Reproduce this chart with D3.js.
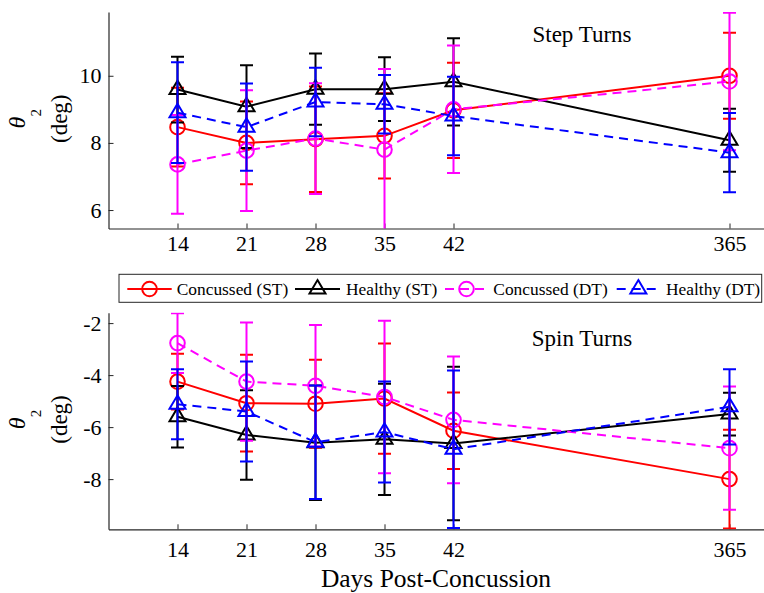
<!DOCTYPE html>
<html>
<head>
<meta charset="utf-8">
<script src="https://cdn.jsdelivr.net/npm/d3@7"></script>
<style>
  html, body { margin: 0; padding: 0; background: #fff; }
  svg { display: block; }
  text { font-family: "Liberation Serif", "Times New Roman", serif; fill: #000; }
</style>
</head>
<body>
<svg id="chart" width="764" height="593"></svg>
<script>
// ---------- data ----------
const xPos = [14, 21, 28, 35, 42, 70];            // plotting position of each visit
const xTickLabels = ["14", "21", "28", "35", "42", "365"];
const seriesNames = ["Concussed (ST)", "Healthy (ST)", "Concussed (DT)", "Healthy (DT)"];

// Step Turns (top panel)
const stepConcST   = [8.47, 8.00, 8.11, 8.21, 8.97, 10.00];
const stepConcSTe  = [1.17, 1.23, 1.57, 1.27, 1.42, 1.28];
const stepHealthST = [9.59, 9.08, 9.60, 9.60, 9.82, 8.08];
const stepHealthSTe= [0.98, 1.23, 1.06, 0.95, 1.30, 0.94];
const stepConcDT   = [7.36, 7.77, 8.13, 7.80, 9.00, 9.83];
const stepConcDTe  = [1.47, 1.80, 1.65, 2.40, 1.90, 2.05];
const stepHealthDT = [8.90, 8.47, 9.22, 9.15, 8.80, 7.71];
const stepHealthDTe= [1.50, 1.30, 1.02, 0.87, 1.17, 1.18];
const stepYTicks = [6, 8, 10];
const stepYTickLabels = ["6", "8", "10"];

// Spin Turns (bottom panel)
const spinConcST   = [-4.25, -5.08, -5.10, -4.90, -6.14, -8.00];
const spinConcSTe  = [1.07, 1.86, 1.69, 2.12, 1.47, 1.90];
const spinHealthST = [-5.60, -6.30, -6.60, -6.47, -6.63, -5.50];
const spinHealthSTe= [1.18, 1.72, 2.20, 2.14, 2.95, 0.82];
const spinConcDT   = [-2.77, -4.25, -4.41, -4.84, -5.72, -6.81];
const spinConcDTe  = [1.15, 2.27, 2.34, 2.93, 2.44, 2.37];
const spinHealthDT = [-5.12, -5.40, -6.58, -6.19, -6.85, -5.22];
const spinHealthDTe= [1.35, 1.92, 2.18, 1.94, 3.03, 1.45];
const spinYTicks = [-8, -6, -4, -2];
const spinYTickLabels = ["-8", "-6", "-4", "-2"];

// ---------- styles ----------
const colors = ["#ff0000", "#000000", "#ff00ff", "#0000ff"];
const dashed = [false, false, true, true];
const markers = ["circle", "triangle", "circle", "triangle"];
const axisColor = "#262626";

const svg = d3.select("#chart");
const x = d3.scaleLinear().domain([7, 77]).range([108.5, 798.5]);

const panels = [
  { title: "Step Turns", top: 12, bottom: 228.5, domain: [5.45, 11.9],
    yTicks: stepYTicks, yLabels: stepYTickLabels, titleY: 42, xLabPad: 7,
    series: [[stepConcST, stepConcSTe], [stepHealthST, stepHealthSTe], [stepConcDT, stepConcDTe], [stepHealthDT, stepHealthDTe]] },
  { title: "Spin Turns", top: 312.7, bottom: 529.3, domain: [-9.93, -1.6],
    yTicks: spinYTicks, yLabels: spinYTickLabels, titleY: 346, xLabPad: 12,
    series: [[spinConcST, spinConcSTe], [spinHealthST, spinHealthSTe], [spinConcDT, spinConcDTe], [spinHealthDT, spinHealthDTe]] }
];

function drawMarker(g, type, cx, cy, color) {
  if (type === "circle") {
    g.append("circle").attr("cx", cx).attr("cy", cy).attr("r", 7.3)
      .attr("fill", "none").attr("stroke", color).attr("stroke-width", 2);
  } else {
    g.append("path")
      .attr("d", `M${cx},${cy - 8.9}L${cx + 8},${cy + 4.5}L${cx - 8},${cy + 4.5}Z`)
      .attr("fill", "none").attr("stroke", color).attr("stroke-width", 2)
      .attr("stroke-linejoin", "miter");
  }
}

panels.forEach((p, pi) => {
  const y = d3.scaleLinear().domain(p.domain).range([p.bottom, p.top]);
  const clipId = "clip" + pi;
  svg.append("clipPath").attr("id", clipId).append("rect")
    .attr("x", x.range()[0]).attr("y", p.top)
    .attr("width", 764 - x.range()[0]).attr("height", p.bottom - p.top);

  // axes
  const xAxis = d3.axisBottom(x).tickValues(xPos)
    .tickFormat((d, i) => xTickLabels[i]).tickSizeInner(-5).tickSizeOuter(0).tickPadding(p.xLabPad);
  const gx = svg.append("g").attr("transform", `translate(0,${p.bottom})`).call(xAxis);
  gx.select(".domain").attr("stroke", axisColor).attr("stroke-width", 1.2);
  gx.selectAll(".tick line").attr("stroke", axisColor);
  gx.selectAll("text").attr("font-size", 22).attr("font-family", "Liberation Serif").attr("fill", "#000");

  const yAxis = d3.axisLeft(y).tickValues(p.yTicks)
    .tickFormat((d, i) => p.yLabels[i]).tickSizeInner(-5).tickSizeOuter(0).tickPadding(7);
  const gy = svg.append("g").attr("transform", `translate(${x.range()[0]},0)`).call(yAxis);
  gy.select(".domain").attr("stroke", axisColor).attr("stroke-width", 1.2);
  gy.selectAll(".tick line").attr("stroke", axisColor);
  gy.selectAll("text").attr("font-size", 22).attr("font-family", "Liberation Serif").attr("fill", "#000");

  // title
  svg.append("text").attr("x", 582).attr("y", p.titleY).attr("text-anchor", "middle")
    .attr("font-size", 23).text(p.title);

  // y label
  const cy = (p.top + p.bottom) / 2 - 1.5;
  const t1 = svg.append("text").attr("transform", `translate(25,${cy}) rotate(-90)`)
    .attr("text-anchor", "middle").attr("font-size", 24);
  t1.append("tspan").attr("font-style", "italic").text("θ");
  t1.append("tspan").attr("font-size", 15).attr("dy", 16).text("2");
  svg.append("text").attr("transform", `translate(66.5,${cy}) rotate(-90)`)
    .attr("text-anchor", "middle").attr("font-size", 23).text("(deg)");

  // series
  p.series.forEach((s, si) => {
    const [m, e] = s;
    const g = svg.append("g");
    const gc = g.append("g").attr("clip-path", `url(#${clipId})`);
    const line = d3.line().x((d, i) => x(xPos[i])).y(d => y(d));
    gc.append("path").datum(m).attr("d", line).attr("fill", "none")
      .attr("stroke", colors[si]).attr("stroke-width", 2)
      .attr("stroke-dasharray", dashed[si] ? "9,6" : null);
    m.forEach((v, i) => {
      const cx = x(xPos[i]);
      const yl = y(v - e[i]), yh = y(v + e[i]);
      gc.append("line").attr("x1", cx).attr("x2", cx).attr("y1", yl).attr("y2", yh)
        .attr("stroke", colors[si]).attr("stroke-width", 2);
      [yl, yh].forEach(yy => {
        gc.append("line").attr("x1", cx - 6.5).attr("x2", cx + 6.5).attr("y1", yy).attr("y2", yy)
          .attr("stroke", colors[si]).attr("stroke-width", 2);
      });
    });
    m.forEach((v, i) => drawMarker(g, markers[si], x(xPos[i]), y(v), colors[si]));
  });
});

// legend
const lg = svg.append("g");
lg.append("rect").attr("x", 119).attr("y", 274.3).attr("width", 642.7).attr("height", 28)
  .attr("fill", "#fff").attr("stroke", axisColor).attr("stroke-width", 1);
const legItems = [
  { x1: 127.3, x2: 171.7, tx: 176.7 },
  { x1: 295, x2: 340, tx: 346 },
  { x1: 445, x2: 488, tx: 493.3 },
  { x1: 616.7, x2: 660, tx: 666 }
];
const ly = 289;
legItems.forEach((it, i) => {
  lg.append("line").attr("x1", it.x1).attr("x2", it.x2).attr("y1", ly).attr("y2", ly)
    .attr("stroke", colors[i]).attr("stroke-width", 2)
    .attr("stroke-dasharray", dashed[i] ? "9,6" : null);
  drawMarker(lg, markers[i], (it.x1 + it.x2) / 2, ly, colors[i]);
  lg.append("text").attr("x", it.tx).attr("y", ly).attr("dy", "0.35em")
    .attr("font-size", 17.4).text(seriesNames[i]);
});

// x label
svg.append("text").attr("x", 436).attr("y", 587).attr("text-anchor", "middle")
  .attr("font-size", 25.5).text("Days Post-Concussion");
</script>
</body>
</html>
